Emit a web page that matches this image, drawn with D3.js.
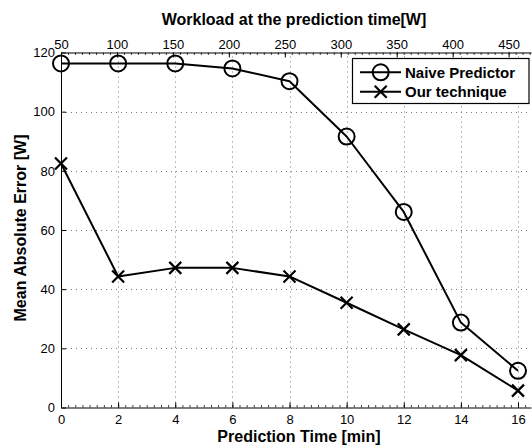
<!DOCTYPE html>
<html>
<head>
<meta charset="utf-8">
<script src="https://cdn.jsdelivr.net/npm/d3@7"></script>
<style>
  html, body { margin: 0; padding: 0; background: #fff; }
  svg { display: block; font-family: "Liberation Sans", Arial, Helvetica, sans-serif; }
</style>
</head>
<body>
<svg id="chart" width="532" height="448"></svg>
<script>
// Prediction horizon (minutes) and workload at the prediction time (W)
const predictionTime = [0, 2, 4, 6, 8, 10, 12, 14, 16];
const naivePredictor = [116.3, 116.3, 116.3, 114.6, 110.3, 91.6, 66.1, 28.7, 12.4];
const ourTechnique   = [82.5, 44.3, 47.2, 47.2, 44.3, 35.4, 26.4, 17.7, 5.7];
const workloadTicks  = [50, 100, 150, 200, 250, 300, 350, 400, 450];
const timeTicks      = [0, 2, 4, 6, 8, 10, 12, 14, 16];
const errorTicks     = [0, 20, 40, 60, 80, 100, 120];

const svg = d3.select("#chart");
const plotLeft = 61, plotRight = 531, plotTop = 52.5, plotBottom = 407.5;

const x = d3.scaleLinear().domain([0, 16.455]).range([plotLeft, plotRight]);
const xTop = d3.scaleLinear().domain([50, 470]).range([plotLeft, plotRight]);
const y = d3.scaleLinear().domain([0, 120]).range([plotBottom, plotTop]);

// dotted grid
const grid = svg.append("g").attr("stroke", "#777").attr("stroke-width", 1)
  .attr("stroke-dasharray", "1,4");
grid.selectAll("line.v").data(timeTicks.filter(d => d > 0)).join("line")
  .attr("class", "v")
  .attr("x1", d => Math.round(x(d)) + 0.5).attr("x2", d => Math.round(x(d)) + 0.5)
  .attr("y1", plotBottom).attr("y2", plotTop);
grid.selectAll("line.h").data(errorTicks.filter(d => d > 0 && d < 120)).join("line")
  .attr("class", "h")
  .attr("x1", plotLeft).attr("x2", plotRight)
  .attr("y1", d => Math.round(y(d)) + 0.5).attr("y2", d => Math.round(y(d)) + 0.5);

const tickFont = g => g.selectAll("text").attr("font-size", 13).attr("fill", "#000")
  .attr("font-family", "'Liberation Sans', Arial, sans-serif");

// minor ticks on bottom and top axes
svg.append("g")
  .attr("transform", `translate(0,${plotBottom})`)
  .call(d3.axisTop(x).tickValues(d3.range(0, 16.46, 0.25)).tickSize(2.5).tickFormat(""))
  .call(g => g.select(".domain").remove())
  .call(g => g.selectAll("line").attr("stroke", "#444"));
svg.append("g")
  .attr("transform", `translate(0,${plotTop})`)
  .call(d3.axisBottom(xTop).tickValues(d3.range(50, 470.1, 6.25)).tickSize(2.5).tickFormat(""))
  .call(g => g.select(".domain").remove())
  .call(g => g.selectAll("line").attr("stroke", "#444"));

// bottom axis: prediction time
svg.append("g")
  .attr("transform", `translate(0,${plotBottom})`)
  .call(d3.axisTop(x).tickValues(timeTicks).tickSize(5).tickPadding(0).tickSizeOuter(0))
  .call(g => g.selectAll("text").attr("transform", "translate(0,21)"))
  .call(tickFont)
  .call(g => g.selectAll("line,path").attr("stroke", "#000"));

// top axis: workload
svg.append("g")
  .attr("transform", `translate(0,${plotTop})`)
  .call(d3.axisBottom(xTop).tickValues(workloadTicks).tickSize(5).tickPadding(0).tickSizeOuter(0))
  .call(g => g.selectAll("text").attr("transform", "translate(0,-18)"))
  .call(tickFont)
  .call(g => g.selectAll("line,path").attr("stroke", "#000"));

// left axis: mean absolute error
svg.append("g")
  .attr("transform", `translate(${plotLeft},0)`)
  .call(d3.axisRight(y).tickValues(errorTicks).tickSize(5).tickPadding(0).tickSizeOuter(0))
  .call(g => g.selectAll("text").attr("text-anchor", "end").attr("transform", "translate(-11,0)"))
  .call(tickFont)
  .call(g => g.selectAll("line,path").attr("stroke", "#000"));

// axis titles
svg.append("text").attr("x", 294).attr("y", 25).attr("text-anchor", "middle")
  .attr("font-size", 16).attr("font-weight", "bold").text("Workload at the prediction time[W]");
svg.append("text").attr("x", 299).attr("y", 442).attr("text-anchor", "middle")
  .attr("font-size", 16).attr("font-weight", "bold").text("Prediction Time [min]");
svg.append("text").attr("transform", "translate(26,228) rotate(-90)").attr("text-anchor", "middle")
  .attr("font-size", 16).attr("font-weight", "bold").text("Mean Absolute Error [W]");

// series
const line = d3.line().x((d, i) => x(predictionTime[i])).y(d => y(d));
const drawCircle = (g, cx, cy) => g.append("circle").attr("cx", cx).attr("cy", cy).attr("r", 8)
  .attr("fill", "none").attr("stroke", "#000").attr("stroke-width", 2);
const drawCross = (g, cx, cy) => {
  const s = 6;
  g.append("path").attr("d", `M${cx - s},${cy - s}L${cx + s},${cy + s}M${cx - s},${cy + s}L${cx + s},${cy - s}`)
    .attr("stroke", "#000").attr("stroke-width", 2.2).attr("fill", "none");
};

const series = [
  { name: "Naive Predictor", values: naivePredictor, marker: drawCircle },
  { name: "Our technique", values: ourTechnique, marker: drawCross }
];

series.forEach(s => {
  const g = svg.append("g");
  g.append("path").attr("d", line(s.values)).attr("fill", "none")
    .attr("stroke", "#000").attr("stroke-width", 2).attr("stroke-linejoin", "round");
  s.values.forEach((v, i) => s.marker(g, x(predictionTime[i]), y(v)));
});

// legend
const lg = svg.append("g");
lg.append("rect").attr("x", 352.5).attr("y", 58.5).attr("width", 176.5).attr("height", 45)
  .attr("fill", "#fff").attr("stroke", "#000").attr("stroke-width", 1.2);
series.forEach((s, i) => {
  const cy = 72.3 + i * 19.4;
  lg.append("line").attr("x1", 360).attr("x2", 401).attr("y1", cy).attr("y2", cy)
    .attr("stroke", "#000").attr("stroke-width", 2);
  s.marker(lg, 380.7, cy);
  lg.append("text").attr("x", 405).attr("y", cy + 5.5).attr("font-size", 15)
    .attr("font-weight", "bold").text(s.name);
});
</script>
</body>
</html>
